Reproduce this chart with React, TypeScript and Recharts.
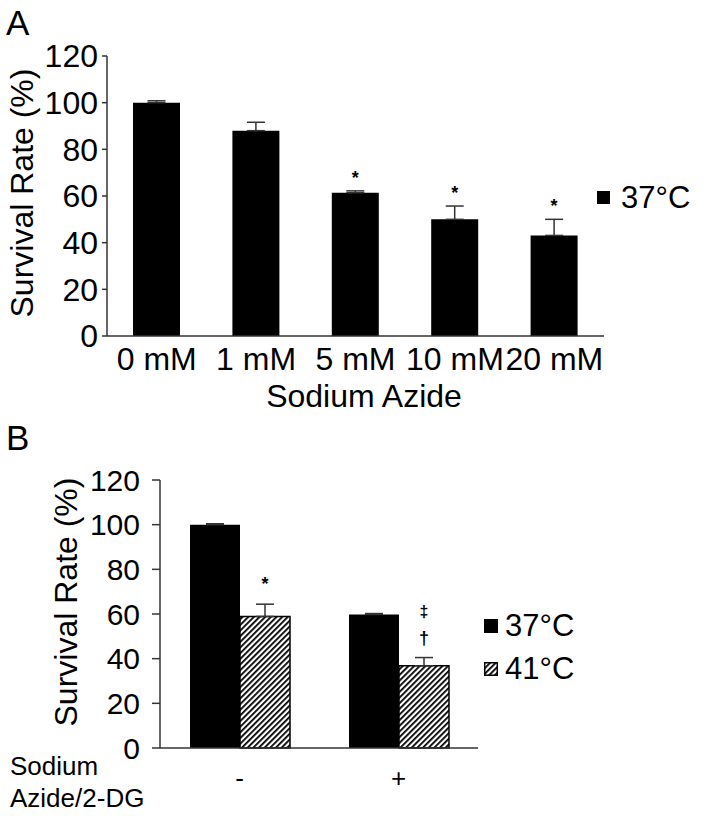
import React from 'react'
import { BarChart, Bar, XAxis, YAxis, ErrorBar, LabelList, Legend, Customized } from 'recharts'

const FONT = '"Liberation Sans", Arial, Helvetica, sans-serif'

// panel A: sodium azide dose series at 37°C
const doseLabels = ['0 mM', '1 mM', '5 mM', '10 mM', '20 mM']
const survivalA = [100, 88, 61.4, 50, 43.1]
const errA = [0.8, 3.6, 0.8, 5.7, 6.9]
const sigA = ['', '', '*', '*', '*']

// panel B: with / without sodium azide + 2-DG at 37 and 41°C
const treatLabels = ['-', '+']
const surv37 = [100, 59.8]
const err37 = [0.4, 0.4]
const surv41 = [58.9, 36.8]
const err41 = [5.5, 3.7]
const sig41 = ['*', '†']
const sig41b = ['', '‡']

const yTicks = [0, 20, 40, 60, 80, 100, 120]

const rowsA = doseLabels.map((d, i) => ({ dose: d, survival: survivalA[i], err: [0, errA[i]], sig: sigA[i] }))
const rowsB = treatLabels.map((t, i) => ({
  treat: t,
  s37: surv37[i],
  e37: [0, err37[i]],
  s41: surv41[i],
  e41: [0, err41[i]],
  sig: sig41[i],
}))

const box = (p: any) => (p.viewBox && p.viewBox.width != null ? p.viewBox : p)

// marker above the error bar of a bar, uses the bar geometry to find the whisker top
const makeMark = (vals: number[], errs: number[], gap: number, size: number, extra?: string[]) =>
  (props: any) => {
    const { index, value } = props
    if (!value) return null
    const { x, y, width, height } = box(props)
    const h = Math.abs(height)
    const top = Math.min(y, y + height)
    const whisker = top - errs[index] * (h / vals[index])
    const cx = x + width / 2
    return (
      <g>
        <text x={cx} y={whisker - gap} textAnchor="middle" fontSize={size} fontWeight="bold" fontFamily={FONT} fill="#000">
          {value}
        </text>
        {extra && extra[index] ? (
          <text x={cx} y={whisker - gap - 27} textAnchor="middle" fontSize={size - 2} fontWeight="bold" fontFamily={FONT} fill="#000">
            {extra[index]}
          </text>
        ) : null}
      </g>
    )
  }

const legendContent = (sw: number, gap: number) => (props: any) => (
  <div style={{ fontFamily: FONT, fontSize: 31, lineHeight: '43px', color: '#000' }}>
    {(props.payload || []).map((p: any) => (
      <div key={p.value} style={{ display: 'flex', alignItems: 'center' }}>
        <svg width={sw} height={sw} style={{ marginRight: gap, display: 'block' }}>
          <rect x={0.75} y={0.75} width={sw - 1.5} height={sw - 1.5} fill={p.payload?.fill || p.color} stroke="#000" strokeWidth={1.5} />
        </svg>
        <span>{p.value}</span>
      </div>
    ))}
  </div>
)

const tickStyle = { fill: '#000', fontSize: 32, fontFamily: FONT }
const axisLine = { stroke: '#333', strokeWidth: 1.5 }

function PanelA() {
  return (
    <BarChart
      width={706}
      height={420}
      data={rowsA}
      margin={{ top: 56, right: 102, bottom: 44, left: 37 }}
      style={{ fontFamily: FONT }}
    >
      <XAxis
        dataKey="dose"
        height={40}
        axisLine={axisLine}
        tickLine={false}
        tickSize={0}
        tickMargin={11}
        tick={tickStyle}
        interval={0}
        label={{
          content: () => (
            <text x={364} y={407} textAnchor="middle" fontSize={32} fontFamily={FONT} fill="#000">
              Sodium Azide
            </text>
          ),
        }}
      />
      <YAxis
        width={70}
        domain={[0, 120]}
        ticks={yTicks}
        axisLine={axisLine}
        tickLine={axisLine}
        tickSize={5}
        tickMargin={4}
        tick={tickStyle}
        label={{
          content: () => (
            <text transform="translate(33,193) rotate(-90)" x={0} y={0} textAnchor="middle" fontSize={32} fontFamily={FONT} fill="#000">
              Survival Rate (%)
            </text>
          ),
        }}
      />
      <Legend
        layout="horizontal"
        verticalAlign="middle"
        align="center"
        wrapperStyle={{ left: 597, top: 176, width: 110 }}
        content={legendContent(13, 11)}
      />
      <Bar dataKey="survival" name="37°C" fill="#000" barSize={47} isAnimationActive={false}>
        <ErrorBar dataKey="err" direction="y" width={9} stroke="#333" strokeWidth={1.5} />
        <LabelList dataKey="sig" content={makeMark(survivalA, errA, 7, 18)} />
      </Bar>
      <Customized
        component={() => (
          <text x={6} y={35} fontSize={35} fontFamily={FONT} fill="#000">
            A
          </text>
        )}
      />
    </BarChart>
  )
}

function PanelB() {
  return (
    <BarChart
      width={706}
      height={416}
      data={rowsB}
      margin={{ top: 80, right: 228, bottom: 28, left: 90 }}
      barGap={0}
      style={{ fontFamily: FONT }}
    >
      <defs>
        <pattern id="hatch41" patternUnits="userSpaceOnUse" width={4} height={4} patternTransform="rotate(45)">
          <rect x={0} y={0} width={4} height={4} fill="#fff" />
          <rect x={0} y={0} width={1.8} height={4} fill="#000" />
        </pattern>
      </defs>
      <XAxis
        dataKey="treat"
        height={40}
        axisLine={axisLine}
        tickLine={false}
        tickSize={0}
        tickMargin={21}
        tick={{ ...tickStyle, fontSize: 26 }}
        label={{
          content: () => (
            <text x={10} y={375} fontSize={26} fontFamily={FONT} fill="#000">
              <tspan x={10} y={375}>Sodium</tspan>
              <tspan x={10} y={407}>Azide/2-DG</tspan>
            </text>
          ),
        }}
      />
      <YAxis
        width={70}
        domain={[0, 120]}
        ticks={yTicks}
        axisLine={axisLine}
        tickLine={axisLine}
        tickSize={8}
        tickMargin={12}
        tick={{ ...tickStyle, fontSize: 30 }}
        label={{
          content: () => (
            <text transform="translate(77,202) rotate(-90)" x={0} y={0} textAnchor="middle" fontSize={32} fontFamily={FONT} fill="#000">
              Survival Rate (%)
            </text>
          ),
        }}
      />
      <Legend
        layout="horizontal"
        verticalAlign="middle"
        align="center"
        wrapperStyle={{ left: 484, top: 204, width: 120 }}
        content={legendContent(14, 7)}
      />
      <Bar dataKey="s37" name="37°C" fill="#000" barSize={50} isAnimationActive={false}>
        <ErrorBar dataKey="e37" direction="y" width={9} stroke="#333" strokeWidth={1.5} />
      </Bar>
      <Bar dataKey="s41" name="41°C" fill="url(#hatch41)" stroke="#000" strokeWidth={1.5} barSize={50} isAnimationActive={false}>
        <ErrorBar dataKey="e41" direction="y" width={9} stroke="#333" strokeWidth={1.5} />
        <LabelList dataKey="sig" content={makeMark(surv41, err41, 14, 18, sig41b)} />
      </Bar>
      <Customized
        component={() => (
          <text x={6} y={50} fontSize={35} fontFamily={FONT} fill="#000">
            B
          </text>
        )}
      />
    </BarChart>
  )
}

export default function App() {
  return (
    <div style={{ position: 'absolute', left: 0, top: 0, width: 706, height: 816, background: '#fff' }}>
      <div style={{ position: 'absolute', left: 0, top: 0 }}>
        <PanelA />
      </div>
      <div style={{ position: 'absolute', left: 0, top: 400 }}>
        <PanelB />
      </div>
    </div>
  )
}
